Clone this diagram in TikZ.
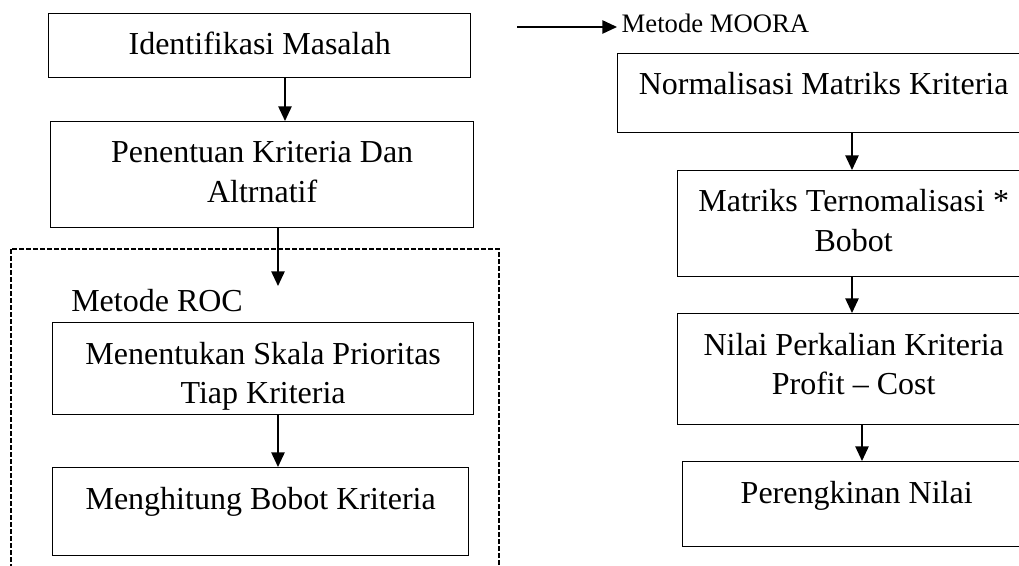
\documentclass[tikz,border=0pt]{standalone}
\usepackage{fontspec}
\setmainfont{Liberation Serif}
\usetikzlibrary{arrows.meta}

\tikzset{
  stage/.style={draw, line width=1pt, anchor=north west, align=flush center,
    inner xsep=0pt, inner ysep=0pt, text height=31pt,
    font=\fontsize{24}{29.5}\selectfont},
  flow/.style={-{Triangle[length=11pt,width=10pt]}, line width=1.2pt},
  groupframe/.style={line width=0.8pt, dash pattern=on 3.5pt off 1.75pt}
}

\begin{document}
\begin{tikzpicture}[x=0.75pt,y=0.75pt]
            \useasboundingbox (0,0) rectangle (1019,-566);
            % ROC group
            \draw [groupframe] (11,-249) rectangle (499,-590);
            \node [stage, text width=316.5pt, text depth=17pt] (ident) at (48,-13) {Identifikasi Masalah};
            \node [stage, text width=317.25pt, text depth=48.5pt] (crit) at (50,-121) {Penentuan Kriteria Dan\\Altrnatif};
            \node [anchor=base west, inner sep=0pt, font=\fontsize{24}{29.5}\selectfont] (roclabel) at (71,-311) {Metode ROC};
            \node [stage, text width=315.75pt, text depth=38pt] (prio) at (52,-322) {Menentukan Skala Prioritas\\Tiap Kriteria};
            \node [stage, text width=312pt, text depth=35pt] (weight) at (52,-467) {Menghitung Bobot Kriteria};
            \coordinate (c1) at (285,0);
            \coordinate (c2) at (278,-286);
            \draw [flow] (ident.south -| c1) -- (crit.north -| c1);
            \draw [flow] (crit.south -| c2) -- (c2);
            \draw [flow] (prio.south -| c2) -- (weight.north -| c2);
            % MOORA
            \coordinate (mooraIn) at (517,-27);
            \node [anchor=base west, font=\fontsize{20}{24}\selectfont] (mooralabel) at (617,-33) {Metode MOORA};
            \draw [flow] (mooraIn) -- (mooraIn -| mooralabel.west);
            \node [stage, text width=309pt, text depth=28.25pt] (norm) at (617,-53) {Normalisasi Matriks Kriteria};
            \node [stage, text width=264pt, text depth=48.5pt] (nweight) at (677,-170) {Matriks Ternomalisasi *\\Bobot};
            \node [stage, text width=264pt, text depth=52.25pt] (profit) at (677,-313) {Nilai Perkalian Kriteria\\Profit – Cost};
            \node [stage, text width=261pt, text depth=32.75pt] (rank) at (682,-461) {Perengkinan Nilai};
            \coordinate (c3) at (852,0);
            \coordinate (c4) at (862,0);
            \draw [flow] (norm.south -| c3) -- (nweight.north -| c3);
            \draw [flow] (nweight.south -| c3) -- (profit.north -| c3);
            \draw [flow] (profit.south -| c4) -- (rank.north -| c4);
\end{tikzpicture}
\end{document}
